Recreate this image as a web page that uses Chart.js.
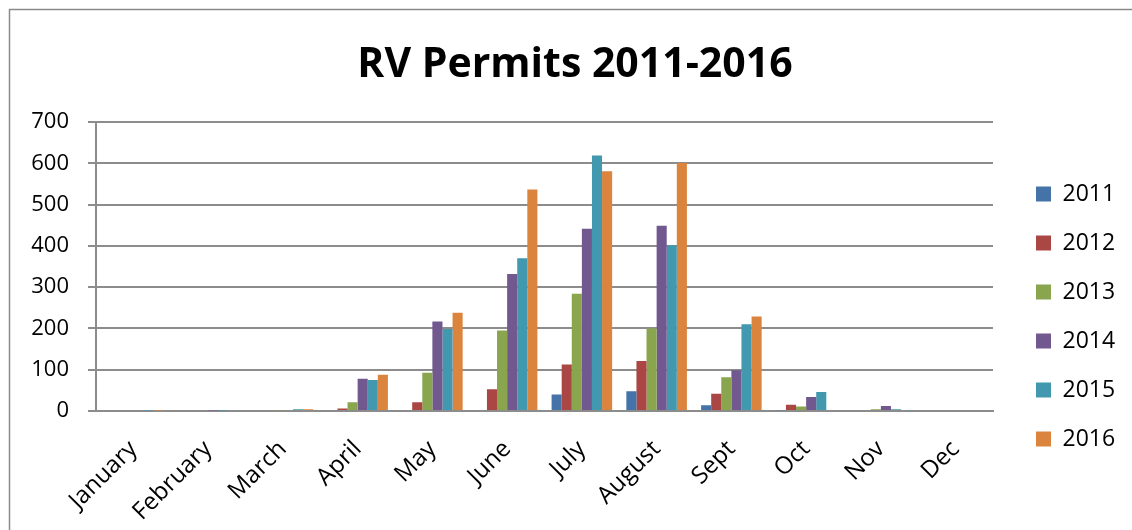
<!DOCTYPE html>
<html>
<head>
<meta charset="utf-8">
<title>RV Permits 2011-2016</title>
<script src="https://cdn.jsdelivr.net/npm/chart.js@4"></script>
<style>
  html, body { margin: 0; padding: 0; background: #ffffff; }
  #wrap { width: 1132px; height: 530px; position: relative; }
</style>
</head>
<body>
<div id="wrap"><canvas id="myChart" width="1132" height="530"></canvas></div>
<script>
// Months along the x axis
const months = ['January', 'February', 'March', 'April', 'May', 'June', 'July', 'August', 'Sept', 'Oct', 'Nov', 'Dec'];

// Permits per month, one array per year
const permits2011 = [0, 0, 0, 0, 0, 0, 40, 48, 14, 2, 0, 0];
const permits2012 = [0, 0, 0, 6, 21, 53, 113, 121, 42, 15, 0, 0];
const permits2013 = [0, 0, 2, 21, 93, 195, 284, 200, 82, 11, 4, 0];
const permits2014 = [0, 1, 0, 78, 217, 332, 442, 449, 99, 34, 12, 0];
const permits2015 = [1, 1, 4, 75, 199, 370, 619, 402, 210, 46, 4, 0];
const permits2016 = [1, 0, 4, 88, 238, 537, 581, 601, 229, 0, 0, 0];

const years = ['2011', '2012', '2013', '2014', '2015', '2016'];
const colors = ['#4572a7', '#aa4643', '#89a54e', '#71588f', '#4198af', '#db843d'];
const series = [permits2011, permits2012, permits2013, permits2014, permits2015, permits2016];

const gridColor = '#8c8c8c';
const fontFamily = "'Open Sans', 'DejaVu Sans', sans-serif";

// Thin grey frame along the top and left edge
const framePlugin = {
  id: 'frame',
  beforeDraw(chart) {
    const c = chart.ctx;
    c.save();
    c.strokeStyle = '#8a8a8a';
    c.lineWidth = 1.5;
    c.beginPath();
    c.moveTo(9.5, chart.height);
    c.lineTo(9.5, 9.5);
    c.lineTo(chart.width, 9.5);
    c.stroke();
    c.restore();
  }
};

// Legend sits a bit away from the plot and lower than centre
const LEGEND_WIDTH = 129;
const LEGEND_DX = 17;
const LEGEND_DY = 31;
const legendPlacement = {
  id: 'legendPlacement',
  beforeLayout(chart) {
    const legend = chart.legend;
    if (legend && !legend._widened) {
      const fit = legend.fit;
      legend.fit = function() {
        fit.call(this);
        this.width = LEGEND_WIDTH;
      };
      legend._widened = true;
    }
  },
  afterLayout(chart) {
    const legend = chart.legend;
    legend.left += LEGEND_DX;
    legend.right += LEGEND_DX;
    legend.top += LEGEND_DY;
    legend.bottom += LEGEND_DY;
  }
};

const ctx = document.getElementById('myChart').getContext('2d');

var chartData = {
  labels: months,
  datasets: years.map(function(year, i) {
    return {
      label: year,
      data: series[i],
      backgroundColor: colors[i],
      borderWidth: 0,
      categoryPercentage: 0.81,
      barPercentage: 1.0
    };
  })
};

var chartOptions = {
  responsive: false,
  animation: false,
  layout: {
    padding: { left: 28, right: 10, top: 41, bottom: 0 }
  },
  plugins: {
    title: {
      display: true,
      text: 'RV Permits 2011-2016',
      color: '#000000',
      font: { family: fontFamily, size: 41, weight: 'bold' },
      padding: { top: 0, bottom: 32 }
    },
    legend: {
      position: 'right',
      align: 'center',
      labels: {
        color: '#000000',
        font: { family: fontFamily, size: 23 },
        boxWidth: 15,
        boxHeight: 15,
        padding: 26
      }
    },
    tooltip: { enabled: false }
  },
  scales: {
    x: {
      grid: { display: false, drawTicks: false },
      border: { color: gridColor, width: 2 },
      ticks: {
        color: '#000000',
        font: { family: fontFamily, size: 24 },
        maxRotation: 45,
        minRotation: 45,
        padding: 24
      },
      afterFit: function(scale) {
        scale.paddingLeft = 0;
        scale.paddingRight = 0;
        scale.height = 119;
      }
    },
    y: {
      min: 0,
      max: 700,
      grid: { color: gridColor, lineWidth: 2, tickLength: 8 },
      border: { color: gridColor, width: 2 },
      ticks: {
        stepSize: 100,
        color: '#000000',
        font: { family: fontFamily, size: 22 },
        padding: 19
      },
      afterFit: function(scale) {
        scale.width = 68;
      }
    }
  }
};

// Create the chart
var myChart = new Chart(ctx, {
  type: 'bar',
  data: chartData,
  options: chartOptions,
  plugins: [framePlugin, legendPlacement]
});
</script>
</body>
</html>
